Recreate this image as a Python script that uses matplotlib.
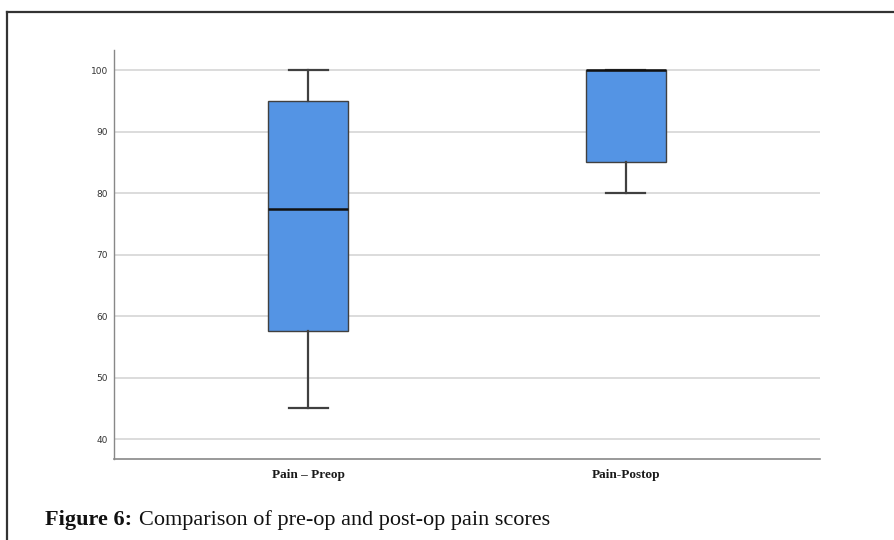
import matplotlib
matplotlib.use("Agg")
import matplotlib.pyplot as plt
from matplotlib.lines import Line2D

# pain score summary per group
groups = ["Pain \u2013 Preop", "Pain-Postop"]
whisker_low = [45, 80]
q1 = [57.5, 85]
median = [77.5, 100]
q3 = [95, 100]
whisker_high = [100, 100]
yticks = [40, 50, 60, 70, 80, 90, 100]

stats = []
for i in range(len(groups)):
    stats.append({
        "label": groups[i],
        "whislo": whisker_low[i],
        "q1": q1[i],
        "med": median[i],
        "q3": q3[i],
        "whishi": whisker_high[i],
        "fliers": [],
    })

fig = plt.figure(figsize=(8.94, 5.40), dpi=100)
ax = fig.add_axes([0.1275, 0.15, 0.7895, 0.757])

ax.bxp(stats, positions=[0, 1], widths=0.252, patch_artist=True, showfliers=False,
       boxprops=dict(facecolor="#5494e4", edgecolor="#404040", linewidth=1.0),
       medianprops=dict(color="#111111", linewidth=1.8),
       whiskerprops=dict(color="#404040", linewidth=1.6),
       capprops=dict(color="#404040", linewidth=1.6),
       capwidths=0.123, zorder=3)

ax.set_xlim(-0.611, 1.611)
ax.set_ylim(36.75, 103.25)
ax.set_yticks(yticks)
ax.set_yticklabels([str(v) for v in yticks], fontsize=6.5, color="#333333")
ax.yaxis.grid(True, color="#d6d6d6", linewidth=1.2, zorder=0)
ax.set_axisbelow(True)
ax.tick_params(axis="y", length=0, pad=4.5)
ax.tick_params(axis="x", length=0, pad=7)
for lbl in ax.get_xticklabels():
    lbl.set_fontfamily("Liberation Serif")
    lbl.set_fontweight("bold")
    lbl.set_fontsize(9.5)
    lbl.set_color("#1a1a1a")

for side in ["top", "right"]:
    ax.spines[side].set_visible(False)
ax.spines["left"].set_color("#888888")
ax.spines["bottom"].set_color("#888888")
ax.spines["left"].set_linewidth(1.0)
ax.spines["bottom"].set_linewidth(1.2)

# frame around the figure panel
fig.add_artist(Line2D([7 / 894, 1.0], [1 - 12 / 540, 1 - 12 / 540], color="#333333", linewidth=1.6))
fig.add_artist(Line2D([7 / 894, 7 / 894], [0.0, 1 - 12 / 540], color="#333333", linewidth=1.6))

fig.text(45 / 894, 1 - 520 / 540, "Figure 6:", fontfamily="Liberation Serif", fontweight="bold",
         fontsize=16, va="center", ha="left", color="#111111")
fig.text(139 / 894, 1 - 520 / 540, "Comparison of pre-op and post-op pain scores",
         fontfamily="Liberation Serif", fontsize=16, va="center", ha="left", color="#111111")

fig.savefig("out.png", dpi=100)
